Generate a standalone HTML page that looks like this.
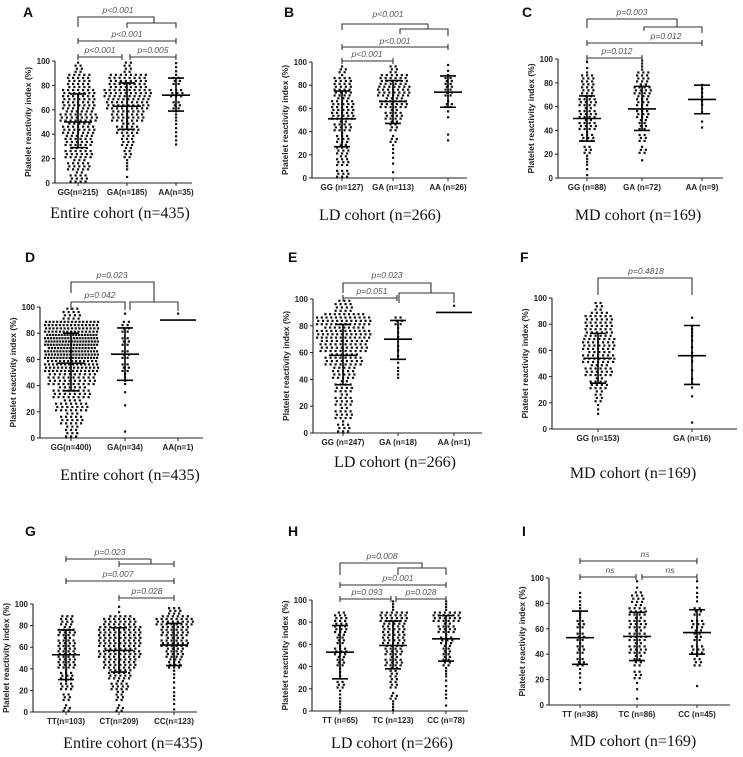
<!DOCTYPE html>
<html><head><meta charset="utf-8"><style>
html,body{margin:0;padding:0;background:#fff;}
svg{display:block;}
</style></head><body>
<svg id="fig" width="743" height="757" viewBox="0 0 743 757" xmlns="http://www.w3.org/2000/svg">
<rect width="743" height="757" fill="#fff"/>
</svg>
<script>
// ---- data (counts per 10% bin: 0-10 ... 90-100) ----
const labelsA = ["GG(n=215)","GA(n=185)","AA(n=35)"];
const binsA = [[14,18,22,24,26,30,28,26,20,7],[1,4,8,12,18,28,36,38,32,8],[0,0,0,3,3,4,6,9,7,3]];
const meanA = [50,63,72]; const sdLoA = [29,44,59]; const sdHiA = [73,82,86];

const labelsB = ["GG (n=127)","GA (n=113)","AA (n=26)"];
const binsB = [[9,11,11,10,14,20,18,16,13,5],[1,2,3,5,8,14,22,28,24,6],[0,0,0,2,0,2,5,8,7,2]];
const meanB = [51,66,74]; const sdLoB = [27,47,61]; const sdHiB = [75,84,88];

const labelsC = ["GG (n=88)","GA (n=72)","AA (n=9)"];
const binsC = [[2,4,6,10,14,14,14,12,10,2],[0,1,5,6,8,10,12,14,12,4],[0,0,0,0,2,1,3,3,0,0]];
const meanC = [50,58,66]; const sdLoC = [31,40,54]; const sdHiC = [69,77,78];

const labelsD = ["GG(n=400)","GA(n=34)","AA(n=1)"];
const binsD = [[12,18,25,30,40,55,70,75,60,15],[1,0,1,1,4,6,6,6,8,1],[0,0,0,0,0,0,0,0,0,1]];
const meanD = [57,64,90]; const sdLoD = [36,44,null]; const sdHiD = [80,84,null];

const labelsE = ["GG (n=247)","GA (n=18)","AA (n=1)"];
const binsE = [[10,14,14,14,20,30,40,45,45,15],[0,0,0,0,4,2,3,3,6,0],[0,0,0,0,0,0,0,0,0,1]];
const meanE = [58,70,90]; const sdLoE = [36,55,null]; const sdHiE = [81,84,null];

const labelsF = ["GG (n=153)","GA (n=16)"];
const binsF = [[0,3,8,14,22,26,28,24,22,6],[1,0,1,3,1,3,2,4,1,0]];
const meanF = [54,56]; const sdLoF = [35,34]; const sdHiF = [73,79];

const labelsG = ["TT(n=103)","CT(n=209)","CC(n=123)"];
const binsG = [[5,6,10,10,16,16,14,14,12,0],[5,8,14,20,28,34,36,36,26,2],[2,3,2,3,12,16,22,24,30,9]];
const meanG = [53,57,62]; const sdLoG = [30,37,43]; const sdHiG = [76,78,82];

const labelsH = ["TT (n=65)","TC (n=123)","CC (n=78)"];
const binsH = [[4,3,6,3,8,10,8,12,11,0],[4,5,8,8,14,16,20,20,24,4],[1,3,2,4,8,8,10,14,24,4]];
const meanH = [53,59,65]; const sdLoH = [29,38,45]; const sdHiH = [77,81,86];

const labelsI = ["TT (n=38)","TC (n=86)","CC (n=45)"];
const binsI = [[0,2,3,6,7,6,7,4,3,0],[1,2,6,8,14,14,14,14,11,2],[0,1,0,7,9,8,9,6,3,2]];
const meanI = [53,54,57]; const sdLoI = [32,35,40]; const sdHiI = [74,73,75];

const yTicks = [0,20,40,60,80,100];

// ---- layout ----
const panels = [
 {id:"a",letter:"A",lx:23,ly:17,ax:55,y100:61,y0:183,xe:192,gx:[78,127,176],lab:labelsA,bins:binsA,mean:meanA,lo:sdLoA,hi:sdHiA,cap:"Entire cohort (n=435)",cx:120,cy:218,
  br:[["M78,27V17H154V23"],["M127,28V23H176V28"],["M78,41H176M78,38V44M176,38V44"],["M78,57H122M78,54V60M122,54V60"],["M130,57H176M130,54V60M176,54V60"]],
  tx:[[118,13,"p<0.001"],[127,37,"p<0.001"],[100,53,"p<0.001"],[153,53,"p=0.005"]]},
 {id:"b",letter:"B",lx:284,ly:17,ax:312,y100:62,y0:178,xe:467,gx:[342,393,448],lab:labelsB,bins:binsB,mean:meanB,lo:sdLoB,hi:sdHiB,cap:"LD cohort (n=266)",cx:380,cy:220,
  br:[["M342,30V24H428V29"],["M400,34V29H448V36"],["M342,47H448M342,44V50M448,44V50"],["M342,61H393M342,58V64M393,58V64"]],
  tx:[[388,17,"p<0.001"],[395,44,"p<0.001"],[367,57,"p<0.001"]]},
 {id:"c",letter:"C",lx:522,ly:17,ax:558,y100:59,y0:178,xe:723,gx:[587,642,702],lab:labelsC,bins:binsC,mean:meanC,lo:sdLoC,hi:sdHiC,cap:"MD cohort (n=169)",cx:638,cy:220,
  br:[["M587,28V19H677V27"],["M644,31V27H702V33"],["M587,43H702M587,40V46M702,40V46"],["M587,58H642M587,55V61M642,55V61"]],
  tx:[[632,15,"p=0.003"],[666,39,"p=0.012"],[617,54,"p=0.012"]]},
 {id:"d",letter:"D",lx:25,ly:262,ax:40,y100:307,y0:438,xe:203,gx:[71,125,178],lab:labelsD,bins:binsD,mean:meanD,lo:sdLoD,hi:sdHiD,cap:"Entire cohort (n=435)",cx:130,cy:480,
  br:[["M71,293V282H154V302"],["M130,310V302H178V311"],["M71,310V302H125V310"]],
  tx:[[112,278,"p=0.023"],[100,298,"p=0.042"]]},
 {id:"e",letter:"E",lx:288,ly:262,ax:313,y100:299,y0:433,xe:482,gx:[343,398,454],lab:labelsE,bins:binsE,mean:meanE,lo:sdLoE,hi:sdHiE,cap:"LD cohort (n=266)",cx:395,cy:467,
  br:[["M343,293V283H431V293"],["M399,303V293H454V303"],["M343,298H397M343,295V301M397,295V301"]],
  tx:[[387,278,"p=0.023"],[372,294,"p=0.051"]]},
 {id:"f",letter:"F",lx:520,ly:262,ax:552,y100:298,y0:429,xe:737,gx:[598,692],lab:labelsF,bins:binsF,mean:meanF,lo:sdLoF,hi:sdHiF,cap:"MD cohort (n=169)",cx:633,cy:478,
  br:[["M598,295V278H692V295"]],
  tx:[[646,274,"p=0.4818"]]},
 {id:"g",letter:"G",lx:25,ly:536,ax:33,y100:604,y0:712,xe:197,gx:[66,119,174],lab:labelsG,bins:binsG,mean:meanG,lo:sdLoG,hi:sdHiG,cap:"Entire cohort (n=435)",cx:133,cy:748,
  br:[["M66,559H151M66,556V562M151,559V564"],["M119,564H174M119,561V567M174,561V567"],["M66,581H174M66,578V584M174,578V584"],["M119,598H174M119,595V601M174,595V601"]],
  tx:[[110,555,"p=0.023"],[118,577,"p=0.007"],[147,594,"p=0.028"]]},
 {id:"h",letter:"H",lx:288,ly:536,ax:312,y100:600,y0:711,xe:468,gx:[340,393,446],lab:labelsH,bins:binsH,mean:meanH,lo:sdLoH,hi:sdHiH,cap:"LD cohort (n=266)",cx:392,cy:748,
  br:[["M340,575V563H422V568"],["M398,575V568H446V575"],["M340,585H446M340,582V588M446,582V588"],["M340,599H391M340,596V602M391,596V602"],["M396,599H446M396,596V602M446,596V602"]],
  tx:[[382,559,"p=0.008"],[398,581,"p=0.001"],[367,595,"p=0.093"],[421,595,"p=0.028"]]},
 {id:"i",letter:"I",lx:522,ly:536,ax:549,y100:578,y0:705,xe:730,gx:[580,637,697],lab:labelsI,bins:binsI,mean:meanI,lo:sdLoI,hi:sdHiI,cap:"MD cohort (n=169)",cx:633,cy:746,
  br:[["M580,561H697M580,558V564M697,558V564"],["M580,577H636M580,574V580M636,574V580"],["M642,577H697M642,574V580M697,574V580"]],
  tx:[[645,557,"ns"],[610,573,"ns"],[670,573,"ns"]]}
];

const NS = "http://www.w3.org/2000/svg";
const svg = document.getElementById("fig");
function mk(tag, attrs, parent){
  const e = document.createElementNS(NS, tag);
  for (const k in attrs) e.setAttribute(k, attrs[k]);
  parent.appendChild(e);
  return e;
}

panels.forEach(p => {
  const g = mk("g", {}, svg);
  
  
  const yS = v => p.y0 + (p.y100 - p.y0) * v / 100;
  const binPx = Math.abs(p.y0 - p.y100) / 10;

  const L = mk("text", {x:p.lx, y:p.ly, "font-family":"Liberation Sans, sans-serif", "font-weight":"bold", "font-size":"14", fill:"#111"}, g);
  L.textContent = p.letter;
  
  

  const ax = mk("path", {d:`M${p.ax},${p.y100}V${p.y0}H${p.xe}`, stroke:"#222", "stroke-width":"1.1", fill:"none"}, g);
  
  
  yTicks.forEach(t => {
    const y = yS(t);
    mk("line", {x1:p.ax-3, x2:p.ax, y1:y, y2:y, stroke:"#222", "stroke-width":"1"}, g);
    const tl = mk("text", {x:p.ax-5, y:y+3, "text-anchor":"end", "font-family":"Liberation Sans, sans-serif", "font-weight":"bold", "font-size":"8", fill:"#222"}, g);
    tl.textContent = t;
    
    
  });
  const yt = mk("text", {transform:`translate(${p.ax-24},${(p.y0+p.y100)/2}) rotate(-90)`, "text-anchor":"middle", "font-family":"Liberation Sans, sans-serif", "font-weight":"bold", "font-size":"8.5", fill:"#222"}, g);
  yt.textContent = "Platelet reactivity index (%)";
  
  

  p.gx.forEach((x, gi) => {
    mk("line", {x1:x, x2:x, y1:p.y0, y2:p.y0+3, stroke:"#222", "stroke-width":"1"}, g);
    const xl = mk("text", {x:x, y:p.y0+12, "text-anchor":"middle", "font-family":"Liberation Sans, sans-serif", "font-weight":"bold", "font-size":"8", fill:"#222"}, g);
    xl.textContent = p.lab[gi];
    
    

    const dg = mk("g", {fill:"#111"}, g);
    
    
    p.bins[gi].forEach((c, bi) => {
      if (!c) return;
      const rows = Math.min(Math.max(1, Math.round(binPx / 3)), c);
      const perRow = Math.ceil(c / rows);
      const sp = perRow > 1 ? Math.min(5, 52 / (perRow - 1)) : 5;
      let k = 0;
      for (let r = 0; r < rows && k < c; r++) {
        const inRow = Math.min(perRow, c - k);
        const v = bi * 10 + (r + 0.5) * 10 / rows;
        const y = yS(v);
        const off = (r % 2) ? sp / 2 : 0;
        for (let j = 0; j < inRow; j++, k++) {
          const dx = (j - (inRow - 1) / 2) * sp + (inRow > 1 ? off * 0.5 : 0);
          const d = mk("rect", {x:x+dx-1, y:y-1, width:2.2, height:2.2}, dg);
          
          
        }
      }
    });

    const hw = p.lo[gi] == null ? 18 : 14;
    const m = mk("line", {x1:x-hw, x2:x+hw, y1:yS(p.mean[gi]), y2:yS(p.mean[gi]), stroke:"#000", "stroke-width":"1.6"}, g);
    
    
    if (p.lo[gi] != null) {
      const s = mk("path", {d:`M${x},${yS(p.lo[gi])}V${yS(p.hi[gi])}M${x-8},${yS(p.lo[gi])}H${x+8}M${x-8},${yS(p.hi[gi])}H${x+8}`, stroke:"#000", "stroke-width":"1.6", fill:"none"}, g);
      
      
    }
  });

  p.br.forEach(b => {
    const bp = mk("path", {d:b[0], stroke:"#333", "stroke-width":"1.1", fill:"none"}, g);
    
    
  });
  p.tx.forEach(t => {
    const te = mk("text", {x:t[0], y:t[1], "text-anchor":"middle", "font-family":"Liberation Sans, sans-serif", "font-style":"italic", "font-size":"8.5", fill:"#555"}, g);
    te.textContent = t[2];
    
    
  });

  const c = mk("text", {x:p.cx, y:p.cy, "text-anchor":"middle", "font-family":"Liberation Serif, serif", "font-size":"16", fill:"#111"}, g);
  c.textContent = p.cap;
  
  
});
</script>
</body></html>
